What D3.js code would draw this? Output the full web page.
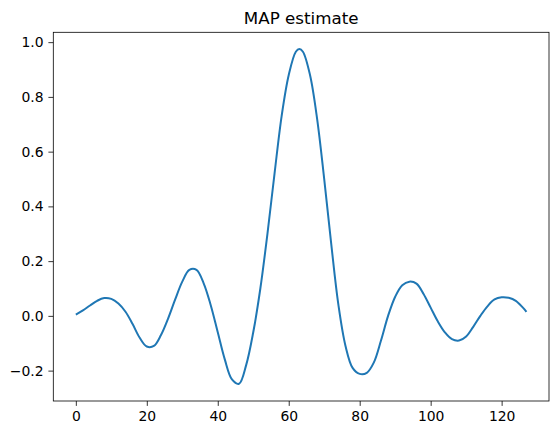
<!DOCTYPE html><html><head><meta charset="utf-8">
<script src="https://cdn.jsdelivr.net/npm/d3@7"></script>
<style>body{margin:0;background:#fff}text{font-family:"DejaVu Sans",sans-serif}</style></head><body>
<svg id="c" width="559" height="435"></svg>
<script>
const xs=[0,2,4,6,8,10,12,14,16,18,20,22,24,26,28,30,32,34,36,38,40,42,44,46,48,50,52,54,56,58,60,62,63,64,66,68,70,72,74,76,78,80,82,84,86,88,90,92,94,96,98,100,102,104,106,108,110,112,114,116,118,120,122,124,126,127];
const ys=[0.005,0.02,0.038,0.055,0.065,0.062,0.045,0.015,-0.03,-0.08,-0.112,-0.11,-0.07,-0.01,0.06,0.125,0.168,0.168,0.12,0.04,-0.06,-0.16,-0.232,-0.248,-0.18,-0.06,0.1,0.3,0.52,0.73,0.88,0.965,0.975,0.965,0.88,0.72,0.5,0.26,0.04,-0.11,-0.19,-0.212,-0.208,-0.17,-0.09,0.0,0.07,0.112,0.125,0.118,0.08,0.03,-0.02,-0.06,-0.085,-0.09,-0.075,-0.04,0.0,0.035,0.06,0.068,0.066,0.055,0.03,0.015];
const xTicks=[0,20,40,60,80,100,120];
const yTicks=[-0.2,0,0.2,0.4,0.6,0.8,1.0];
const title="MAP estimate";
const svg=d3.select("#c");
const L=53.3,R=549,T=32.3,B=401;
const x=d3.scaleLinear().domain([-6.35,133.35]).range([L,R]);
const y=d3.scaleLinear().domain([-0.311,1.036]).range([B,T]);
const data=xs.map((v,i)=>[v,ys[i]]);
svg.append("path").datum(data).attr("fill","none").attr("stroke","#1f77b4").attr("stroke-width",2)
 .attr("d",d3.line().x(d=>x(d[0])).y(d=>y(d[1])).curve(d3.curveCatmullRom));
const ax=svg.append("g").attr("transform",`translate(0,${B})`).call(d3.axisBottom(x).tickValues(xTicks).tickSize(4.9).tickPadding(4.9).tickFormat(d3.format("d")));
const ay=svg.append("g").attr("transform",`translate(${L},0)`).call(d3.axisLeft(y).tickValues(yTicks).tickSize(4.9).tickPadding(4.9).tickFormat(d=>d3.format(".1f")(d).replace("-","\u2212")));
[ax,ay].forEach(a=>{a.select(".domain").remove();a.selectAll("text").attr("font-size",13.9).attr("fill","#000").style("font-family","DejaVu Sans");a.selectAll("line").attr("stroke","#000").attr("stroke-width",0.8);});
svg.append("rect").attr("x",L).attr("y",T).attr("width",R-L).attr("height",B-T).attr("fill","none").attr("stroke","#000").attr("stroke-width",0.8);
svg.append("text").attr("x",(L+R)/2).attr("y",T-8.3).attr("text-anchor","middle").attr("font-size",16.7).text(title);
</script></body></html>
